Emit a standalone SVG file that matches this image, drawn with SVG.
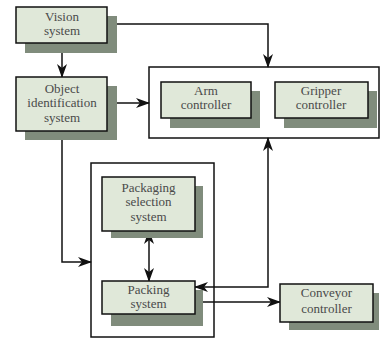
<svg xmlns="http://www.w3.org/2000/svg" width="381" height="338" viewBox="0 0 381 338">
<style>
.box{fill:#e0e8d9;stroke:#111;stroke-width:1.5}
.sh{fill:#808c7c}
.ct{fill:none;stroke:#111;stroke-width:1.5}
.ln{fill:none;stroke:#111;stroke-width:1.5}
text{font-family:'Liberation Serif','DejaVu Serif',serif;font-size:13px;fill:#4a4a4a;text-anchor:middle}
</style>
<defs>
<marker id="ah" viewBox="0 0 14 10" refX="13" refY="5" markerWidth="14" markerHeight="10" markerUnits="userSpaceOnUse" orient="auto-start-reverse">
<path d="M0,0 L14,5 L0,10 L4,5 z" fill="#111"/>
</marker>
</defs>
<rect width="381" height="338" fill="#fff"/>
<g id="container-controllers"><rect class="ct" x="149" y="67" width="230" height="71"/></g>
<g id="container-packaging"><rect class="ct" x="91" y="163" width="123" height="174"/></g>
<g id="connectors">
<path class="ln" d="M62,43 L62,77" marker-end="url(#ah)"/>
<path class="ln" d="M107,24 L268,24 L268,67" marker-end="url(#ah)"/>
<path class="ln" d="M107,103 L149,103" marker-end="url(#ah)"/>
<path class="ln" d="M62,131 L62,262 L91,262" marker-end="url(#ah)"/>
<path class="ln" d="M149,231 L149,281" marker-start="url(#ah)" marker-end="url(#ah)"/>
<path class="ln" d="M195,287 L268,287 L268,138" marker-start="url(#ah)" marker-end="url(#ah)"/>
<path class="ln" d="M195,302 L280,302" marker-end="url(#ah)"/>
</g>
<g id="vision">
<rect class="sh" x="25" y="16" width="92" height="37"/>
<rect class="box" x="16" y="7" width="91" height="36"/>
<text x="62" y="21">Vision</text><text x="62" y="35">system</text>
</g>
<g id="object-identification">
<rect class="sh" x="25" y="86" width="92" height="54"/>
<rect class="box" x="16" y="77" width="91" height="54"/>
<text x="62" y="93">Object</text><text x="62" y="107">identification</text><text x="62" y="122">system</text>
</g>
<g id="arm-controller">
<rect class="sh" x="170" y="91" width="90" height="37"/>
<rect class="box" x="161" y="82" width="90" height="36"/>
<text x="206" y="95">Arm</text><text x="206" y="109">controller</text>
</g>
<g id="gripper-controller">
<rect class="sh" x="284" y="91" width="93" height="37"/>
<rect class="box" x="275" y="82" width="93" height="36"/>
<text x="321" y="95">Gripper</text><text x="321" y="109">controller</text>
</g>
<g id="packaging-selection">
<rect class="sh" x="111" y="186" width="92" height="52"/>
<rect class="box" x="102" y="177" width="93" height="54"/>
<text x="148.5" y="192">Packaging</text><text x="148.5" y="206">selection</text><text x="148.5" y="221">system</text>
</g>
<g id="packing-system">
<rect class="sh" x="111" y="290" width="92" height="36"/>
<rect class="box" x="102" y="281" width="93" height="33"/>
<text x="148.5" y="294">Packing</text><text x="148.5" y="308">system</text>
</g>
<g id="conveyor-controller">
<rect class="sh" x="289" y="293" width="90" height="37"/>
<rect class="box" x="280" y="284" width="93" height="38"/>
<text x="326.5" y="297">Conveyor</text><text x="326.5" y="313">controller</text>
</g>
</svg>
